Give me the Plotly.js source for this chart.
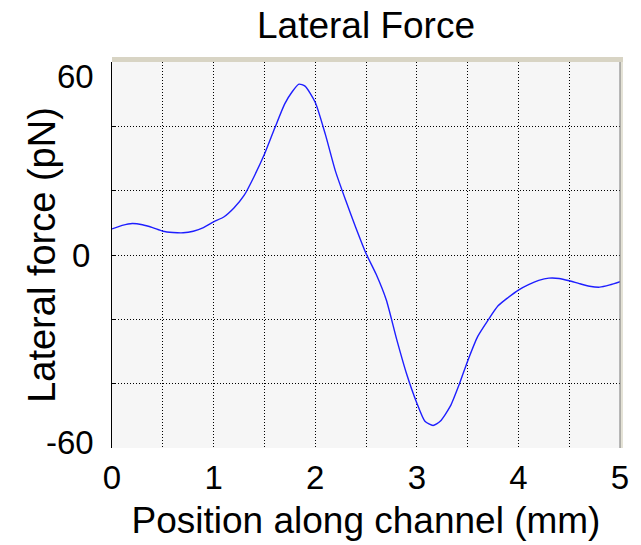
<!DOCTYPE html>
<html>
<head>
<meta charset="utf-8">
<script src="https://cdn.plot.ly/plotly-3.0.1.min.js"></script>
<style>html,body{margin:0;padding:0;background:#fff;}#chart{width:641px;height:545px;}</style>
</head>
<body>
<div id="chart"></div>
<script>
// Data
const positionMm = [0, 0.1, 0.2, 0.3, 0.4, 0.5, 0.6, 0.7, 0.8, 0.9, 1.0, 1.1, 1.2, 1.3, 1.4, 1.5, 1.6, 1.7, 1.77, 1.84, 1.9, 2.0, 2.1, 2.2, 2.3, 2.4, 2.5, 2.6, 2.7, 2.8, 2.9, 3.0, 3.08, 3.16, 3.23, 3.33, 3.42, 3.5, 3.6, 3.7, 3.8, 3.9, 4.0, 4.1, 4.2, 4.3, 4.4, 4.5, 4.6, 4.7, 4.8, 4.9, 5.0];
const lateralForcePn = [8.1, 9.2, 9.8, 9.4, 8.5, 7.4, 7.0, 6.9, 7.4, 8.5, 10.3, 11.8, 14.6, 18.5, 24.5, 31.3, 39.3, 47.0, 50.6, 53.1, 52.5, 47.5, 37.5, 26.0, 17.0, 8.5, 0.5, -6.0, -14.0, -26.0, -37.0, -46.0, -51.7, -53.0, -51.7, -47.0, -40.0, -33.0, -25.3, -20.3, -15.8, -13.2, -10.9, -9.2, -7.9, -7.2, -7.3, -8.0, -8.9, -9.7, -10.0, -9.3, -8.3];
const xTickVals = [0, 0.5, 1, 1.5, 2, 2.5, 3, 3.5, 4, 4.5, 5];
const xTickText = ['0', '', '1', '', '2', '', '3', '', '4', '', '5'];
const yTickVals = [-60, -40, -20, 0, 20, 40, 60];
const yTickText = ['', '', '', '0', '', '', ''];
const yEdgeLabels = ['60', '-60'];

const FONT = 'Liberation Sans, Arial, Helvetica, sans-serif';

const trace = {
  x: positionMm,
  y: lateralForcePn,
  type: 'scatter',
  mode: 'lines',
  line: {color: 'rgb(30,30,255)', width: 1.4, shape: 'spline', smoothing: 0.6},
  hoverinfo: 'skip'
};

const layout = {
  width: 641,
  height: 545,
  margin: {l: 112, r: 21, t: 62, b: 97},
  paper_bgcolor: '#ffffff',
  plot_bgcolor: 'rgb(246,246,246)',
  showlegend: false,
  font: {family: FONT, color: '#000', size: 33},
  title: {
    text: 'Lateral Force',
    font: {family: FONT, size: 37, color: '#000'},
    x: 366 / 641, xanchor: 'center', xref: 'container',
    y: 1 - 25 / 545, yanchor: 'middle', yref: 'container'
  },
  xaxis: {
    range: [0, 5],
    tickmode: 'array',
    tickvals: xTickVals,
    ticktext: xTickText,
    showgrid: true,
    gridcolor: '#000',
    gridwidth: 1,
    griddash: '1px,2px',
    zeroline: false,
    showline: false,
    ticks: '',
    tickfont: {family: FONT, size: 33, color: '#000'},
    ticklabelstandoff: 7,
    title: {text: 'Position along channel (mm)', font: {family: FONT, size: 37, color: '#000'}, standoff: 12},
    fixedrange: true
  },
  yaxis: {
    range: [-60, 60],
    tickmode: 'array',
    tickvals: yTickVals,
    ticktext: yTickText,
    showgrid: true,
    gridcolor: '#000',
    gridwidth: 1,
    griddash: '1px,2px',
    zeroline: false,
    showline: true,
    linecolor: '#000',
    linewidth: 1,
    ticks: 'inside',
    ticklen: 4,
    tickcolor: '#000',
    tickfont: {family: FONT, size: 33, color: '#000'},
    ticklabelstandoff: 14,
    title: {text: 'Lateral force (pN)', font: {family: FONT, size: 38, color: '#000'}, standoff: 4},
    fixedrange: true
  },
  annotations: [
    {text: yEdgeLabels[0], xref: 'paper', yref: 'y', x: 0, y: 60, xanchor: 'right', yanchor: 'top',
     xshift: -16, yshift: 6, showarrow: false, font: {family: FONT, size: 33, color: '#000'}},
    {text: yEdgeLabels[1], xref: 'paper', yref: 'y', x: 0, y: -60, xanchor: 'right', yanchor: 'middle',
     xshift: -16, yshift: 6, showarrow: false, font: {family: FONT, size: 33, color: '#000'}}
  ],
  shapes: [
    {type: 'rect', xref: 'paper', yref: 'paper', x0: 0, x1: 1 + 3 / 508, y0: 1, y1: 1 + 5 / 386,
     fillcolor: 'rgb(216,212,196)', line: {width: 0}, layer: 'above'},
    {type: 'rect', xref: 'paper', yref: 'paper', x0: 1, x1: 1 + 3 / 508, y0: 0, y1: 1,
     fillcolor: 'rgb(228,226,214)', line: {width: 0}, layer: 'above'},
    {type: 'line', xref: 'paper', yref: 'paper', x0: 1, x1: 1, y0: 0, y1: 1,
     line: {color: 'rgb(120,120,120)', width: 1}, layer: 'above'}
  ]
};

Plotly.newPlot('chart', [trace], layout, {displayModeBar: false, staticPlot: true});
</script>
</body>
</html>
